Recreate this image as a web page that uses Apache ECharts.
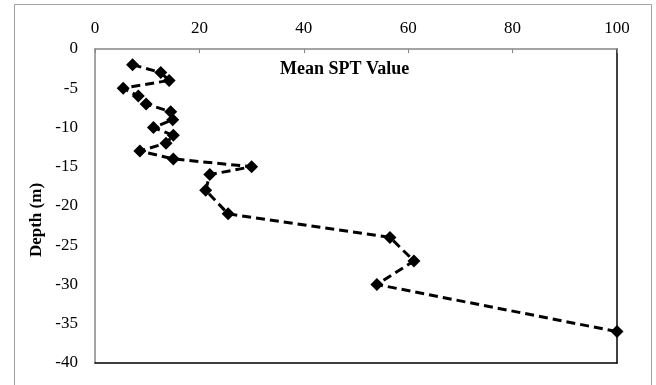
<!DOCTYPE html>
<html>
<head>
<meta charset="utf-8">
<script src="https://cdn.jsdelivr.net/npm/echarts@6/dist/echarts.min.js"></script>
<style>
  html, body { margin: 0; padding: 0; background: #fff; }
  #chart { width: 656px; height: 385px; }
</style>
</head>
<body>
<div id="chart"></div>
<script>
// Mean SPT value against depth below ground
const sptValues = [7.2, 12.6, 14.2, 5.4, 8.3, 9.8, 14.5, 14.9, 11.2, 15, 13.6, 8.6, 15, 30, 22, 21.2, 25.5, 56.5, 61.1, 54, 100];
const depths = [-2, -3, -4, -5, -6, -7, -8, -9, -10, -11, -12, -13, -14, -15, -16, -18, -21, -24, -27, -30, -36];
const xTicks = [0, 20, 40, 60, 80, 100];
const yTicks = [0, -5, -10, -15, -20, -25, -30, -35, -40];

const serif = '"Liberation Serif", "Times New Roman", serif';
const points = sptValues.map((v, i) => [v, depths[i]]);

const chart = echarts.init(document.getElementById('chart'), null, { renderer: 'canvas' });
chart.setOption({
  animation: false,
  backgroundColor: '#fff',
  grid: { left: 95, top: 49, right: 39, bottom: 22, containLabel: false },
  graphic: [
    {
      type: 'rect', silent: true, z: 0,
      shape: { x: 14.5, y: 4.5, width: 637, height: 400 },
      style: { fill: 'none', stroke: '#a0a0a0', lineWidth: 1 }
    },
    {
      type: 'text', left: 280, top: 60, z: 10,
      style: { text: 'Mean SPT Value', font: 'bold 18px ' + serif, fill: '#000' }
    },
    {
      type: 'text', x: 37, y: 220, rotation: Math.PI / 2, z: 10,
      style: {
        text: 'Depth (m)', font: 'bold 17px ' + serif, fill: '#000',
        align: 'center', verticalAlign: 'middle'
      }
    }
  ],
  xAxis: [
    {
      type: 'value', position: 'top', min: xTicks[0], max: xTicks[xTicks.length - 1], interval: 20,
      axisLine: { show: true, lineStyle: { color: '#868686', width: 1.5 } },
      axisTick: { show: true, inside: true, length: 4, lineStyle: { color: '#868686' } },
      axisLabel: { show: true, margin: 12, color: '#000', fontSize: 17, fontFamily: serif },
      splitLine: { show: false }
    },
    {
      type: 'value', position: 'bottom', min: 0, max: 100, interval: 20,
      axisLine: { show: true, onZero: false, lineStyle: { color: '#000', width: 1.5 } },
      axisTick: { show: false }, axisLabel: { show: false }, splitLine: { show: false }
    }
  ],
  yAxis: [
    {
      type: 'value', position: 'left', min: yTicks[yTicks.length - 1], max: yTicks[0], interval: 5,
      axisLine: { show: true, onZero: false, lineStyle: { color: '#868686', width: 1.5 } },
      axisTick: { show: false },
      axisLabel: { show: true, margin: 17, color: '#000', fontSize: 17, fontFamily: serif },
      splitLine: { show: false }
    },
    {
      type: 'value', position: 'right', min: -40, max: 0, interval: 5,
      axisLine: { show: true, onZero: false, lineStyle: { color: '#000', width: 1.5 } },
      axisTick: { show: false }, axisLabel: { show: false }, splitLine: { show: false }
    }
  ],
  series: [
    {
      type: 'line', xAxisIndex: 0, yAxisIndex: 0,
      data: points,
      clip: false,
      symbol: 'diamond', symbolSize: 13,
      itemStyle: { color: '#000' },
      lineStyle: { color: '#000', width: 3, type: [9, 5] },
      z: 5
    }
  ]
});
</script>
</body>
</html>
